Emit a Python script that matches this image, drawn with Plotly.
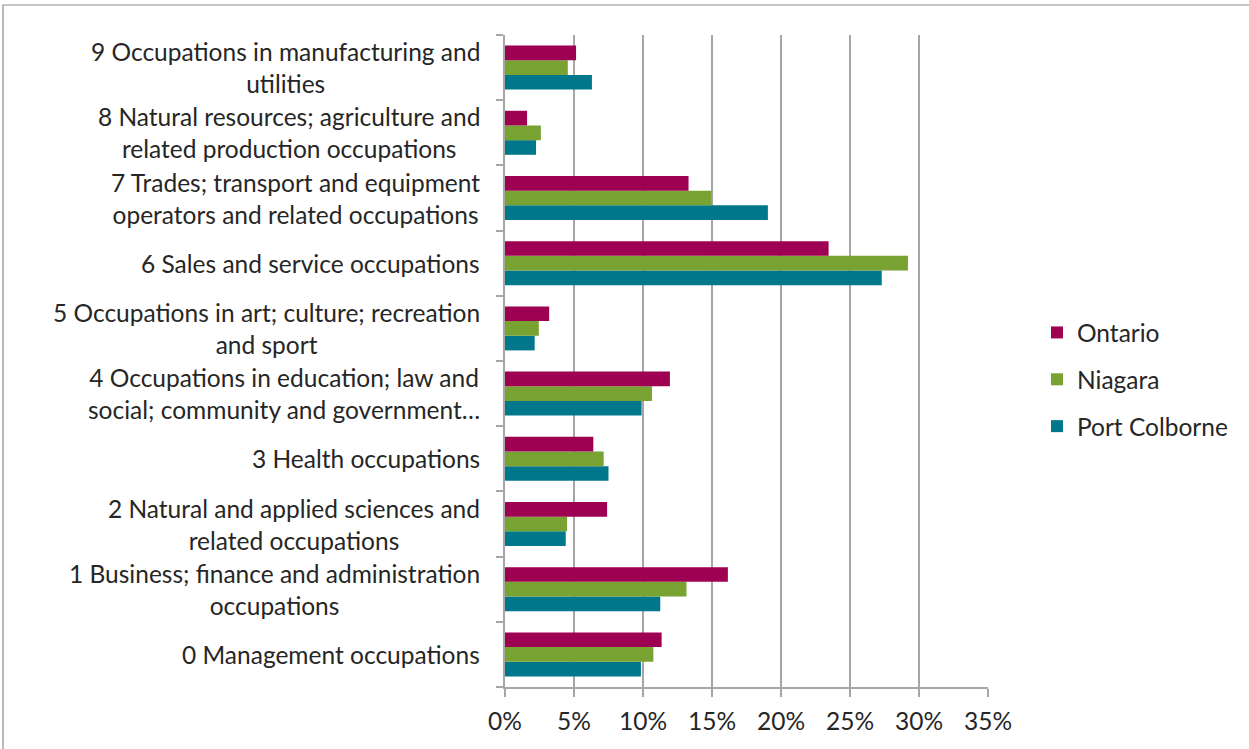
import plotly.graph_objects as go

categories = [
    "0 Management occupations",
    "1 Business; finance and administration<br>occupations",
    "2 Natural and applied sciences and<br>related occupations",
    "3 Health occupations",
    "4 Occupations in education; law and<br>social; community and government…",
    "5 Occupations in art; culture; recreation<br>and sport",
    "6 Sales and service occupations",
    "7 Trades; transport and equipment<br>operators and related occupations",
    "8 Natural resources; agriculture and<br>related production occupations",
    "9 Occupations in manufacturing and<br>utilities",
]
cat_keys = [f"c{i}" for i in range(len(categories))]

ontario = [11.35, 16.15, 7.4, 6.4, 11.95, 3.2, 23.45, 13.3, 1.6, 5.15]
niagara = [10.75, 13.15, 4.5, 7.15, 10.65, 2.45, 29.2, 14.95, 2.6, 4.55]
port_colborne = [9.85, 11.25, 4.4, 7.5, 9.9, 2.15, 27.3, 19.05, 2.25, 6.3]

x_ticks = [0, 5, 10, 15, 20, 25, 30, 35]
x_tick_labels = ["0%", "5%", "10%", "15%", "20%", "25%", "30%", "35%"]

font_family = "Lato, 'Open Sans', sans-serif"
text_color = "#262626"
grid_color = "#A6A6A6"
fs = 24.5

series = [
    ("Port Colborne", port_colborne, "#00778A", 3),
    ("Niagara", niagara, "#78A232", 2),
    ("Ontario", ontario, "#9E0052", 1),
]

fig = go.Figure()
for name, vals, color, grp in series:
    fig.add_trace(go.Bar(
        name=name, y=cat_keys, x=vals, orientation="h",
        marker=dict(color=color, line=dict(width=0)),
        legendgroup=f"g{grp}", legendrank=grp,
    ))

W, H = 1249, 749
ml, mr, mt, mb = 505, 261, 35, 62
pw, ph = W - ml - mr, H - mt - mb

for key, label in zip(cat_keys, categories):
    fig.add_annotation(
        x=-23 / pw, xref="paper", y=key, yref="y",
        text=label, showarrow=False, xanchor="right", yanchor="middle",
        align="center", font=dict(family=font_family, size=fs, color=text_color),
    )

fig.add_shape(
    type="rect", xref="paper", yref="paper",
    x0=(3 - ml) / pw, x1=(1300 - ml) / pw,
    y0=(ph - 800 + mt) / ph, y1=(ph + mt - 5) / ph,
    line=dict(color="#8C8C8C", width=1.2), fillcolor="rgba(0,0,0,0)",
)

fig.update_layout(
    width=W, height=H,
    margin=dict(l=ml, r=mr, t=mt, b=mb),
    paper_bgcolor="white", plot_bgcolor="white",
    barmode="group", bargap=0.325, bargroupgap=0,
    font=dict(family=font_family, size=fs, color=text_color),
    showlegend=True,
    legend=dict(x=(1037 - ml) / pw, xanchor="left", y=0.4716, yanchor="middle",
                tracegroupgap=12, font=dict(size=fs, color=text_color),
                itemwidth=30),
    xaxis=dict(
        range=[0, 35], tickvals=x_ticks, ticktext=x_tick_labels,
        showgrid=True, gridcolor=grid_color, gridwidth=1.5,
        showline=True, linecolor=grid_color, linewidth=1.5,
        ticks="outside", ticklen=8, tickcolor=grid_color, tickwidth=1.5,
        zeroline=False, tickfont=dict(size=fs, color=text_color),
        ticklabelstandoff=4,
    ),
    yaxis=dict(
        type="category", categoryorder="array", categoryarray=cat_keys,
        showticklabels=False, tickson="boundaries",
        ticks="outside", ticklen=7, tickcolor=grid_color, tickwidth=1.5,
        showline=True, linecolor=grid_color, linewidth=1.5,
        showgrid=False, zeroline=False,
    ),
)

fig.write_html("out.html")
